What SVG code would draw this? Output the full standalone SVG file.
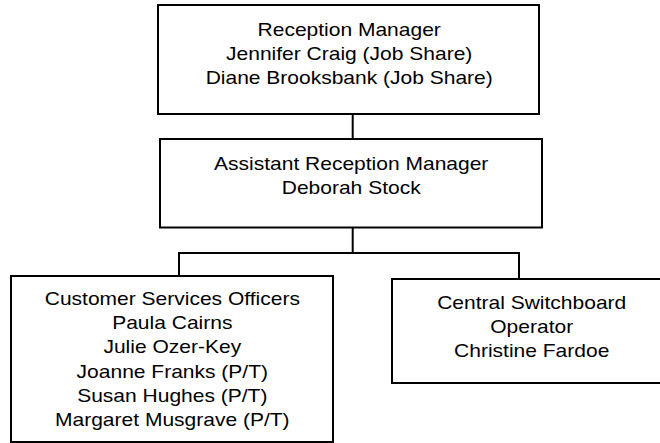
<svg xmlns="http://www.w3.org/2000/svg" width="660" height="443" viewBox="0 0 660 443">
<style>
.box{fill:#fff;stroke:#000;stroke-width:2}
.lbl{font-family:"Liberation Sans",Arial,sans-serif;font-size:18.6px;fill:#000;text-anchor:middle}
.conn{fill:none;stroke:#000;stroke-width:2}
</style>
<rect width="660" height="443" fill="#fff"/>
<g id="connectors">
<line class="conn" x1="352.7" y1="114" x2="352.7" y2="139"/>
<line class="conn" x1="352.7" y1="227.5" x2="352.7" y2="253"/>
<polyline class="conn" points="179,276 179,253 519,253 519,279"/>
</g>
<g id="reception-manager">
<rect class="box" x="158" y="5" width="381" height="109"/>
<text class="lbl" transform="translate(349.2,0) scale(1.13,1)"><tspan x="0" y="36">Reception Manager</tspan><tspan x="0" y="60">Jennifer Craig (Job Share)</tspan><tspan x="0" y="84">Diane Brooksbank (Job Share)</tspan></text>
</g>
<g id="assistant-manager">
<rect class="box" x="160" y="139" width="382" height="88.5"/>
<text class="lbl" transform="translate(351.2,0) scale(1.13,1)"><tspan x="0" y="170">Assistant Reception Manager</tspan><tspan x="0" y="194">Deborah Stock</tspan></text>
</g>
<g id="customer-services">
<rect class="box" x="11" y="276" width="322" height="166"/>
<text class="lbl" transform="translate(172.3,0) scale(1.13,1)"><tspan x="0" y="305">Customer Services Officers</tspan><tspan x="0" y="329.3">Paula Cairns</tspan><tspan x="0" y="353.5">Julie Ozer-Key</tspan><tspan x="0" y="377.7">Joanne Franks (P/T)</tspan><tspan x="0" y="402">Susan Hughes (P/T)</tspan><tspan x="0" y="426">Margaret Musgrave (P/T)</tspan></text>
</g>
<g id="switchboard">
<rect class="box" x="392" y="279" width="280" height="104"/>
<text class="lbl" transform="translate(531.7,0) scale(1.13,1)"><tspan x="0" y="309">Central Switchboard</tspan><tspan x="0" y="333.3">Operator</tspan><tspan x="0" y="357.3">Christine Fardoe</tspan></text>
</g>
</svg>
